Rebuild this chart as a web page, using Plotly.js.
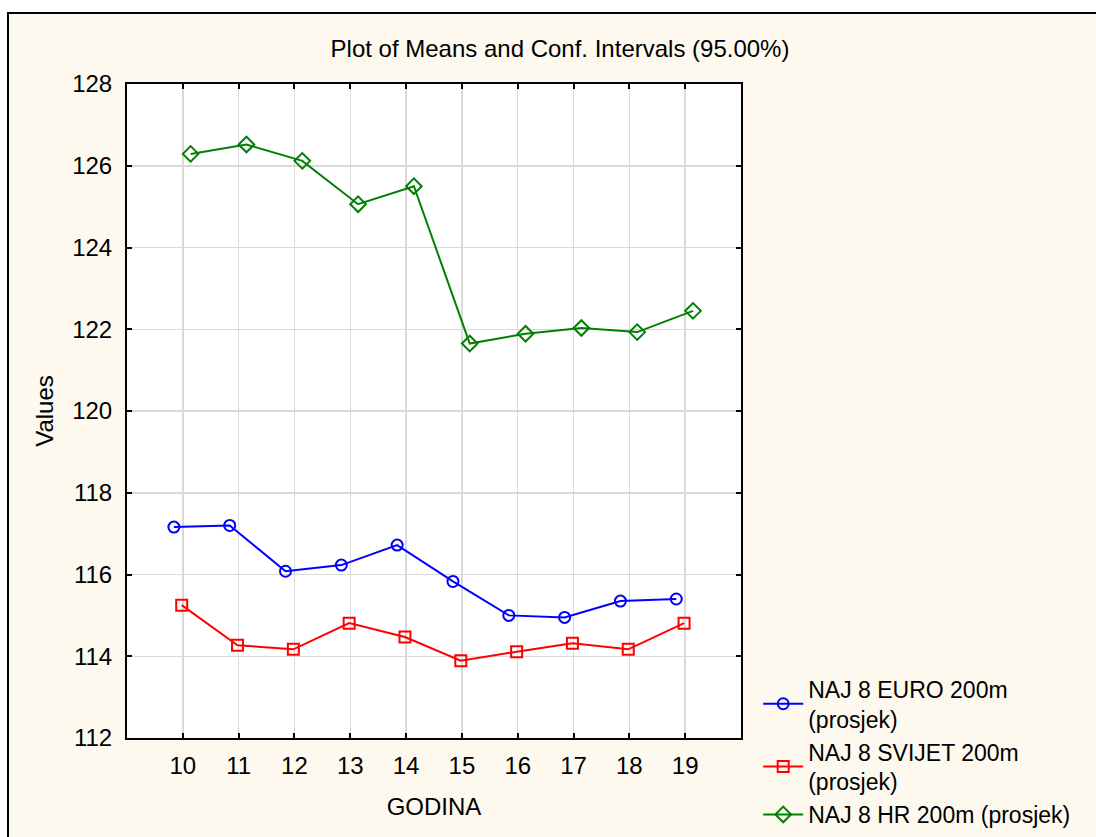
<!DOCTYPE html>
<html>
<head>
<meta charset="utf-8">
<script src="https://cdn.plot.ly/plotly-3.0.1.min.js"></script>
<style>
  html, body { margin: 0; padding: 0; background: #ffffff; overflow: hidden; }
  #frame { position: absolute; left: 7px; top: 12px; width: 1089px; height: 825px;
           border-left: 2px solid #000; border-top: 2px solid #000; background: #fdf9ef; }
  #chart { width: 1089px; height: 825px; }
</style>
</head>
<body>
<div id="frame"><div id="chart"></div></div>
<script>
// Data
const godina = [10, 11, 12, 13, 14, 15, 16, 17, 18, 19];
const euroMeans   = [117.16, 117.20, 116.08, 116.23, 116.72, 115.83, 115.00, 114.95, 115.35, 115.40];
const svijetMeans = [115.25, 114.27, 114.17, 114.81, 114.47, 113.89, 114.11, 114.32, 114.17, 114.81];
const hrMeans     = [126.29, 126.52, 126.12, 125.06, 125.50, 121.65, 121.89, 122.03, 121.93, 122.45];
const seriesNames = ['NAJ 8 EURO 200m<br>(prosjek)', 'NAJ 8 SVIJET 200m<br>(prosjek)', 'NAJ 8 HR 200m (prosjek)'];
const xTickLabels = ['10', '11', '12', '13', '14', '15', '16', '17', '18', '19'];
const yTicks = [112, 114, 116, 118, 120, 122, 124, 126, 128];

// Small horizontal dodge per series (as in the original chart)
const dodge = [-0.16, -0.02, 0.14];
const font = 'Liberation Sans, Arial, sans-serif';

function mk(vals, i, color, symbol, size) {
  return {
    type: 'scatter', mode: 'lines+markers',
    x: godina.map(v => v + dodge[i]), y: vals, name: seriesNames[i],
    line: { color: color, width: 2 },
    marker: { symbol: symbol, size: size, color: color, line: { color: color, width: 2 } },
    cliponaxis: false
  };
}

const traces = [
  mk(euroMeans, 0, '#0000ff', 'circle-open', 11),
  mk(svijetMeans, 1, '#ff0000', 'square-open', 11),
  mk(hrMeans, 2, '#008000', 'diamond-open', 12)
];

const layout = {
  width: 1089, height: 825,
  paper_bgcolor: '#fdf9ef', plot_bgcolor: '#ffffff',
  margin: { l: 118, r: 357, t: 70, b: 101, autoexpand: false },
  font: { family: font, size: 24, color: '#000' },
  title: { text: 'Plot of Means and Conf. Intervals (95.00%)', x: 551 / 1089, xanchor: 'center',
           y: 1 - 35 / 825, yanchor: 'middle', font: { family: font, size: 24, color: '#000' } },
  xaxis: {
    range: [9, 20], tickvals: godina, ticktext: xTickLabels, automargin: false,
    showgrid: true, gridcolor: '#d9d9d9', gridwidth: 1.5, zeroline: false,
    showline: true, linecolor: '#000', linewidth: 2, mirror: 'ticks',
    ticks: 'inside', ticklen: 5, tickcolor: '#000', tickwidth: 2,
    ticklabelstandoff: 5,
    tickfont: { family: font, size: 24 },
    title: { text: 'GODINA', standoff: 20, font: { family: font, size: 24 } }
  },
  yaxis: {
    range: [112, 128], tickvals: yTicks, automargin: false,
    showgrid: true, gridcolor: '#d9d9d9', gridwidth: 1.5, zeroline: false,
    showline: true, linecolor: '#000', linewidth: 2, mirror: 'ticks',
    ticks: 'inside', ticklen: 5, tickcolor: '#000', tickwidth: 2,
    ticklabelstandoff: 8,
    tickfont: { family: font, size: 24 },
    title: { text: 'Values', standoff: 12, font: { family: font, size: 24 } }
  },
  showlegend: true,
  legend: {
    x: 1.028, xanchor: 'left', y: 0.108, yanchor: 'top',
    bgcolor: 'rgba(0,0,0,0)', borderwidth: 0,
    font: { family: font, size: 23, color: '#000' },
    tracegroupgap: 0, itemwidth: 40
  }
};

Plotly.newPlot('chart', traces, layout, { displayModeBar: false, staticPlot: true });
</script>
</body>
</html>
